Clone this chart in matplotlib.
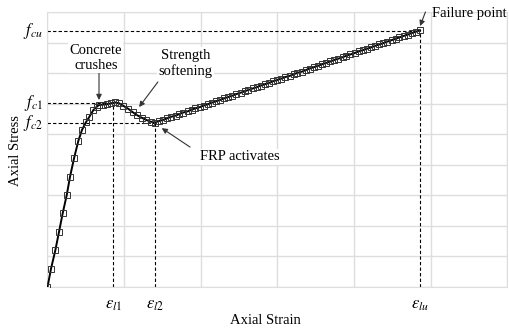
import matplotlib.pyplot as plt

# curve (x in grid units of strain, y in grid units of stress)
strain_rise = [0.0, 0.046, 0.102, 0.150, 0.198, 0.251, 0.294, 0.346, 0.402, 0.450,
               0.503, 0.546, 0.598, 0.642, 0.676, 0.721, 0.773, 0.825, 0.881, 0.937,
               0.990, 1.055, 1.112, 1.164, 1.230, 1.286, 1.347]
stress_rise = [0.0, 0.60, 1.20, 1.80, 2.41, 3.01, 3.61, 4.21, 4.78, 5.14,
               5.40, 5.57, 5.79, 5.90, 5.96, 5.97, 5.98, 6.01, 6.04, 6.01,
               5.93, 5.83, 5.72, 5.63, 5.54, 5.47, 5.41]
strain_frp = [1.40, 1.45, 1.51, 1.56, 1.61, 1.67, 1.72, 1.77, 1.83, 1.88,
              1.93, 1.99, 2.04, 2.09, 2.14, 2.20, 2.25, 2.30, 2.36, 2.41,
              2.46, 2.52, 2.57, 2.62, 2.68, 2.73, 2.78, 2.84, 2.89, 2.94,
              3.00, 3.05, 3.10, 3.16, 3.21, 3.26, 3.32, 3.37, 3.42, 3.47,
              3.53, 3.58, 3.63, 3.69, 3.74, 3.79, 3.85, 3.90, 3.95, 4.01,
              4.06, 4.11, 4.17, 4.22, 4.27, 4.33, 4.38, 4.43, 4.49, 4.54,
              4.59, 4.65, 4.70, 4.75, 4.81, 4.86]
stress_frp = [5.38, 5.43, 5.47, 5.52, 5.57, 5.61, 5.66, 5.71, 5.75, 5.80,
              5.85, 5.89, 5.94, 5.98, 6.03, 6.08, 6.12, 6.17, 6.22, 6.26,
              6.31, 6.36, 6.40, 6.45, 6.50, 6.54, 6.59, 6.64, 6.68, 6.73,
              6.78, 6.82, 6.87, 6.91, 6.96, 7.01, 7.05, 7.10, 7.15, 7.19,
              7.24, 7.29, 7.33, 7.38, 7.43, 7.47, 7.52, 7.57, 7.61, 7.66,
              7.71, 7.75, 7.80, 7.84, 7.89, 7.94, 7.98, 8.03, 8.08, 8.12,
              8.17, 8.22, 8.26, 8.31, 8.36, 8.40]

# key points
f_labels = [r'$f_{cu}$', r'$f_{c1}$', r'$f_{c2}$']
f_values = [8.39, 6.02, 5.37]
f_ends = [4.86, 0.86, 1.40]
eps_labels = [r'$\varepsilon_{l1}$', r'$\varepsilon_{l2}$', r'$\varepsilon_{lu}$']
eps_values = [0.86, 1.40, 4.86]
eps_tops = [6.02, 5.37, 8.39]

plt.rcParams['font.family'] = 'Liberation Serif'
plt.rcParams['mathtext.fontset'] = 'stix'

strain = strain_rise + strain_frp
stress = stress_rise + stress_frp

fig = plt.figure(figsize=(5.09, 3.33), dpi=100)
ax = fig.add_axes([0.0933, 0.138, 0.9037, 0.826])
ax.set_xlim(0, 6)
ax.set_ylim(0, 9)
ax.set_xticks(range(7))
ax.set_yticks(range(10))
ax.tick_params(length=0, labelbottom=False, labelleft=False)
ax.grid(True, color='#dedede', lw=1)
for s in ax.spines.values():
    s.set_color('#dedede')
ax.set_axisbelow(True)

ax.plot(strain, stress, color='black', lw=1.4, marker='s', ms=3.8,
        mfc='none', mec='#333333', mew=0.7, zorder=3)

# dashed guide lines
for lab, v, e in zip(f_labels, f_values, f_ends):
    ax.plot([0, e], [v, v], color='black', lw=0.8, ls=(0, (3, 2)), zorder=2)
    ax.text(-0.06, v, lab, ha='right', va='center', fontsize=12, clip_on=False)
for lab, v, t in zip(eps_labels, eps_values, eps_tops):
    ax.plot([v, v], [0, t], color='black', lw=0.8, ls=(0, (3, 2)), zorder=2)
    ax.text(v, -0.6, lab, ha='center', va='center', fontsize=12, clip_on=False)

arrow = dict(arrowstyle='-|>', color='#333333', lw=0.8, mutation_scale=8,
             shrinkA=0, shrinkB=0)
box = dict(facecolor='white', edgecolor='none', pad=1)
ax.annotate('', xy=(0.672, 6.12), xytext=(0.672, 7.0), arrowprops=arrow)
ax.text(0.63, 7.5, 'Concrete\ncrushes', ha='center', va='center', fontsize=10.5,
        linespacing=1.2, bbox=box)
ax.annotate('', xy=(1.195, 5.89), xytext=(1.44, 6.71), arrowprops=arrow)
ax.text(1.80, 7.32, 'Strength\nsoftening', ha='center', va='center', fontsize=10.5,
        linespacing=1.2, bbox=box)
ax.annotate('', xy=(1.49, 5.20), xytext=(1.86, 4.58), arrowprops=arrow)
ax.text(1.99, 4.26, 'FRP activates', ha='left', va='center', fontsize=10.5, bbox=box)
ax.annotate('', xy=(4.86, 8.54), xytext=(4.93, 9.0), arrowprops=arrow,
            annotation_clip=False)
ax.text(5.01, 8.94, 'Failure point', ha='left', va='center', fontsize=10.5,
        clip_on=False)

ax.text(2.84, -1.08, 'Axial Strain', ha='center', va='center', fontsize=10.5,
        clip_on=False)
ax.text(-0.42, 4.48, 'Axial Stress', ha='center', va='center', rotation=90,
        fontsize=10.5, clip_on=False)

fig.savefig('out.png', dpi=100)
